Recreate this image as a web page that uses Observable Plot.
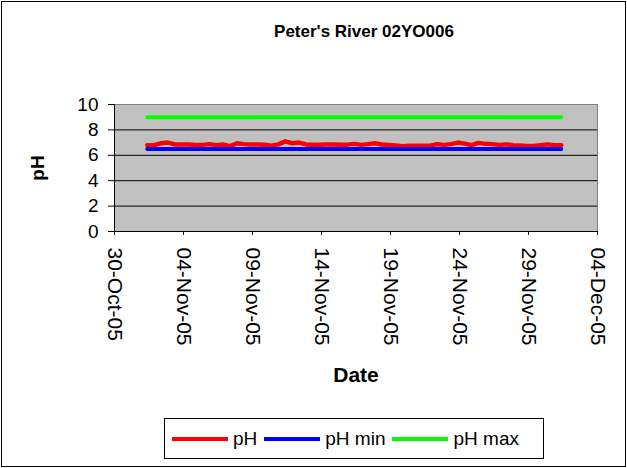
<!DOCTYPE html>
<html>
<head>
<meta charset="utf-8">
<script src="https://cdn.jsdelivr.net/npm/d3@7"></script>
<script src="https://cdn.jsdelivr.net/npm/@observablehq/plot@0.6"></script>
<style>
  html, body { margin: 0; padding: 0; background: #fff; }
  #wrap { position: relative; width: 627px; height: 468px; font-family: "Liberation Sans", Arial, sans-serif; color: #000; }
  #border { position: absolute; left: 1px; top: 1px; width: 623px; height: 464px; border: 1px solid #000; }
  #plot { position: absolute; left: 0; top: 0; }
  #title { position: absolute; left: 114px; width: 500px; top: 22px; text-align: center; font-weight: bold; font-size: 17px; }
  #legend { position: absolute; left: 164px; top: 418px; width: 378px; height: 39px; border: 1px solid #000; display: flex; align-items: center; font-size: 19px; box-sizing: content-box; }
  #legend .item { display: flex; align-items: center; }
  #legend .sw { width: 56px; height: 4px; margin-left: 7px; margin-right: 5px; }
  [aria-label="y-axis label"], [aria-label="x-axis label"] { font-weight: bold; }
</style>
</head>
<body>
<div id="wrap">
  <div id="border"></div>
  <div id="plot"></div>
  <div id="title"></div>
  <div id="legend"></div>
</div>
<script>
const titleText = "Peter's River 02YO006";
const xLabel = "Date";
const yLabel = "pH";

const times = [
  "2005-11-01T09:00Z","2005-11-01T21:00Z","2005-11-02T09:00Z","2005-11-02T21:00Z",
  "2005-11-03T09:00Z","2005-11-03T21:00Z","2005-11-04T09:00Z","2005-11-04T21:00Z",
  "2005-11-05T09:00Z","2005-11-05T21:00Z","2005-11-06T09:00Z","2005-11-06T21:00Z",
  "2005-11-07T09:00Z","2005-11-07T21:00Z","2005-11-08T09:00Z","2005-11-08T21:00Z",
  "2005-11-09T09:00Z","2005-11-09T21:00Z","2005-11-10T09:00Z","2005-11-10T21:00Z",
  "2005-11-11T09:00Z","2005-11-11T21:00Z","2005-11-12T09:00Z","2005-11-12T21:00Z",
  "2005-11-13T09:00Z","2005-11-13T21:00Z","2005-11-14T09:00Z","2005-11-14T21:00Z",
  "2005-11-15T09:00Z","2005-11-15T21:00Z","2005-11-16T09:00Z","2005-11-16T21:00Z",
  "2005-11-17T09:00Z","2005-11-17T21:00Z","2005-11-18T09:00Z","2005-11-18T21:00Z",
  "2005-11-19T09:00Z","2005-11-19T21:00Z","2005-11-20T09:00Z","2005-11-20T21:00Z",
  "2005-11-21T09:00Z","2005-11-21T21:00Z","2005-11-22T09:00Z","2005-11-22T21:00Z",
  "2005-11-23T09:00Z","2005-11-23T21:00Z","2005-11-24T09:00Z","2005-11-24T21:00Z",
  "2005-11-25T09:00Z","2005-11-25T21:00Z","2005-11-26T09:00Z","2005-11-26T21:00Z",
  "2005-11-27T09:00Z","2005-11-27T21:00Z","2005-11-28T09:00Z","2005-11-28T21:00Z",
  "2005-11-29T09:00Z","2005-11-29T21:00Z","2005-11-30T09:00Z","2005-11-30T21:00Z",
  "2005-12-01T09:00Z"
];
const pH = [
  6.80, 6.80, 6.95, 7.00, 6.85, 6.85, 6.85, 6.82, 6.82, 6.88,
  6.80, 6.85, 6.72, 6.95, 6.88, 6.86, 6.86, 6.84, 6.76, 6.86,
  7.10, 6.95, 7.00, 6.86, 6.84, 6.84, 6.86, 6.86, 6.84, 6.84,
  6.90, 6.82, 6.88, 6.95, 6.85, 6.82, 6.78, 6.72, 6.76, 6.76,
  6.76, 6.76, 6.88, 6.82, 6.88, 7.00, 6.92, 6.80, 6.98, 6.90,
  6.88, 6.82, 6.86, 6.80, 6.78, 6.74, 6.74, 6.80, 6.86, 6.80,
  6.80
];
const limitTimes = ["2005-11-01T09:00Z", "2005-12-01T09:00Z"];
const pHMin = [6.5, 6.5];
const pHMax = [9.0, 9.0];

const xDomain = ["2005-10-30", "2005-12-04"];
const xTicks = ["2005-10-30","2005-11-04","2005-11-09","2005-11-14","2005-11-19","2005-11-24","2005-11-29","2005-12-04"];
const yTicks = [0, 2, 4, 6, 8, 10];
const gridTicks = [2, 4, 6, 8];

const seriesNames = ["pH", "pH min", "pH max"];
const seriesColors = ["#FF0000", "#0000FF", "#00FF00"];

const toDate = s => new Date(s.length === 10 ? s + "T00:00Z" : s);

const phRows = times.map((t, i) => ({date: toDate(t), value: pH[i]}));
const minRows = limitTimes.map((t, i) => ({date: toDate(t), value: pHMin[i]}));
const maxRows = limitTimes.map((t, i) => ({date: toDate(t), value: pHMax[i]}));

const fmt = d3.utcFormat("%d-%b-%y");

const chart = Plot.plot({
  width: 627,
  height: 468,
  marginLeft: 114,
  marginRight: 30,
  marginTop: 104,
  marginBottom: 237,
  style: {fontFamily: '"Liberation Sans", Arial, sans-serif', fontSize: "19px", background: "transparent", color: "#000", overflow: "visible"},
  x: {type: "utc", domain: xDomain.map(toDate)},
  y: {domain: [0, 10]},
  marks: [
    Plot.frame({fill: "#C0C0C0", stroke: "#808080"}),
    Plot.gridY(gridTicks, {stroke: "#000", strokeOpacity: 1, strokeWidth: 1}),
    Plot.axisY(yTicks, {tickSize: 6, tickPadding: 10, fontSize: 19, label: yLabel, labelAnchor: "center", labelArrow: false, labelOffset: 84}),
    Plot.axisX(xTicks.map(toDate), {tickSize: 4, tickPadding: 12, tickRotate: 90, fontSize: 21, tickFormat: fmt, label: xLabel, labelAnchor: "center", labelArrow: false, labelOffset: 150}),
    Plot.ruleY([0], {stroke: "#000"}),
    Plot.ruleX([toDate(xDomain[0])], {stroke: "#000"}),
    Plot.line(phRows, {x: "date", y: "value", stroke: seriesColors[0], strokeWidth: 4.5, strokeLinejoin: "round"}),
    Plot.line(minRows, {x: "date", y: "value", stroke: seriesColors[1], strokeWidth: 4}),
    Plot.line(maxRows, {x: "date", y: "value", stroke: seriesColors[2], strokeWidth: 4})
  ]
});
document.getElementById("plot").appendChild(chart);
document.getElementById("title").textContent = titleText;

const legend = document.getElementById("legend");
seriesNames.forEach((name, i) => {
  const item = document.createElement("div");
  item.className = "item";
  const sw = document.createElement("div");
  sw.className = "sw";
  sw.style.background = seriesColors[i];
  const label = document.createElement("span");
  label.textContent = name;
  item.appendChild(sw);
  item.appendChild(label);
  legend.appendChild(item);
});
</script>
</body>
</html>
